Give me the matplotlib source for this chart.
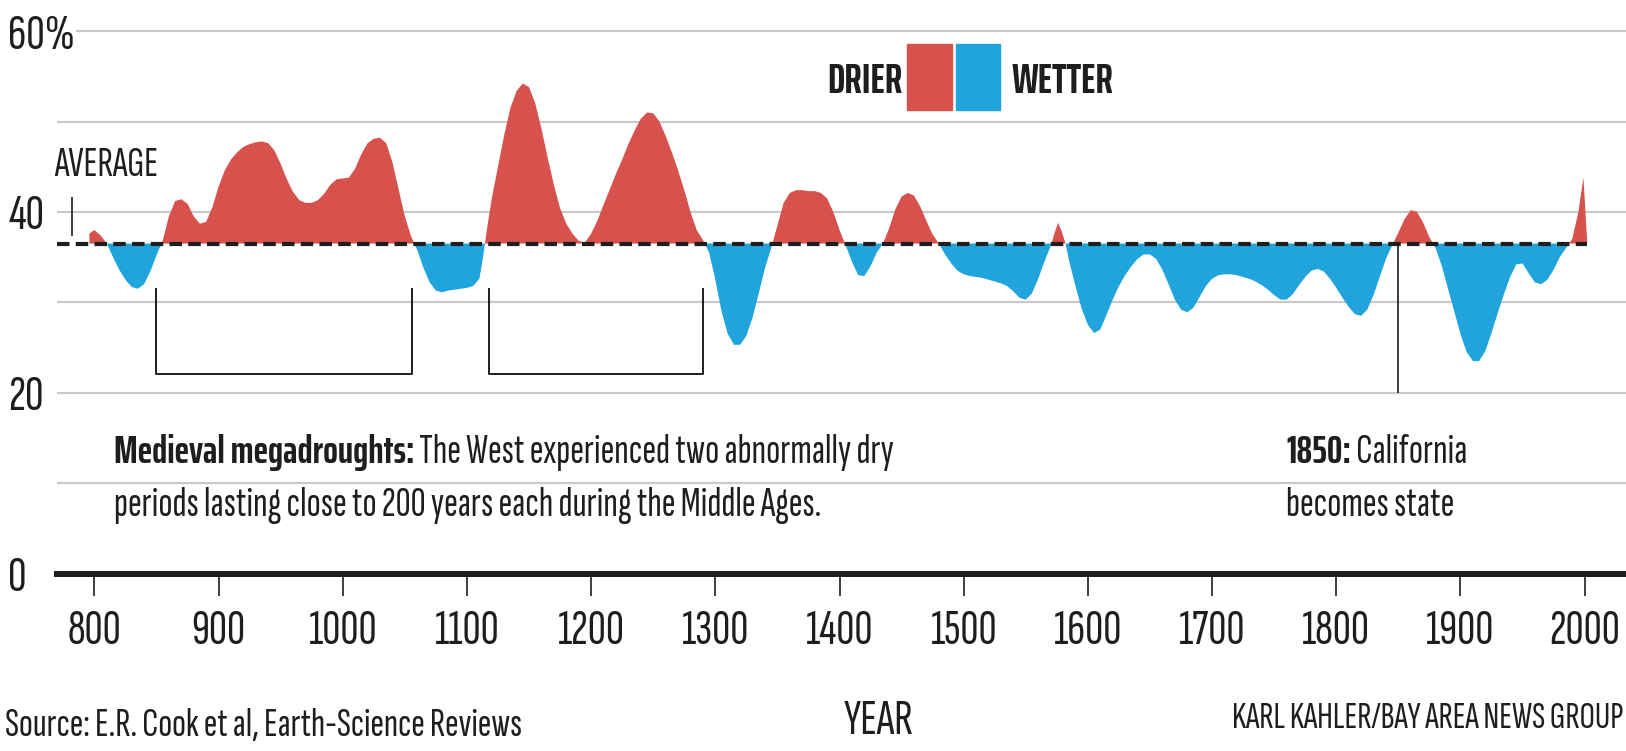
import numpy as np
import matplotlib
matplotlib.use("Agg")
import matplotlib.pyplot as plt
from matplotlib.patches import Rectangle

# share of the West in drought
years = [796, 800, 805, 810, 815, 820, 825, 830, 835, 840, 845, 850, 855, 860, 865, 870,
         875, 880, 885, 890, 895, 900, 905, 910, 915, 920, 925, 930, 935, 940, 945, 950,
         955, 960, 965, 970, 975, 980, 985, 990, 995, 1000, 1005, 1010, 1015, 1020, 1025,
         1030, 1035, 1040, 1045, 1050, 1055, 1060, 1065, 1070, 1075, 1080, 1085, 1090,
         1095, 1100, 1105, 1110, 1113, 1116, 1120, 1125, 1130, 1135, 1140, 1145, 1150,
         1155, 1160, 1165, 1170, 1175, 1180, 1185, 1190, 1195, 1200, 1205, 1210, 1215,
         1220, 1225, 1230, 1235, 1240, 1245, 1250, 1255, 1260, 1265, 1270, 1275, 1280,
         1285, 1290, 1295, 1300, 1305, 1310, 1315, 1320, 1325, 1330, 1335, 1340, 1345,
         1350, 1355, 1360, 1365, 1370, 1375, 1380, 1385, 1390, 1395, 1400, 1405, 1410,
         1415, 1420, 1425, 1430, 1435, 1440, 1445, 1450, 1455, 1460, 1465, 1470, 1475,
         1480, 1485, 1490, 1495, 1500, 1505, 1510, 1515, 1520, 1525, 1530, 1535, 1540,
         1545, 1550, 1555, 1560, 1565, 1570, 1573, 1576, 1579, 1582, 1585, 1590, 1595,
         1600, 1605, 1610, 1615, 1620, 1625, 1630, 1635, 1640, 1645, 1650, 1655, 1660,
         1665, 1670, 1675, 1680, 1685, 1690, 1695, 1700, 1705, 1710, 1715, 1720, 1725,
         1730, 1735, 1740, 1745, 1750, 1755, 1760, 1765, 1770, 1775, 1780, 1785, 1790,
         1795, 1800, 1805, 1810, 1815, 1820, 1825, 1830, 1835, 1840, 1845, 1850, 1855,
         1860, 1865, 1870, 1875, 1880, 1885, 1890, 1895, 1900, 1905, 1910, 1915, 1920,
         1925, 1930, 1935, 1940, 1945, 1950, 1955, 1960, 1965, 1970, 1975, 1980, 1985,
         1990, 1995, 1999, 2002]
drought_area = [37.6, 38.0, 37.4, 36.5, 35.0, 33.6, 32.5, 31.7, 31.5, 32.0, 33.4, 35.2, 36.8,
                39.5, 41.2, 41.4, 40.9, 39.5, 38.7, 38.9, 40.5, 42.8, 44.6, 45.8, 46.6, 47.2,
                47.5, 47.7, 47.8, 47.6, 46.8, 45.3, 43.6, 42.2, 41.3, 41.0, 41.0, 41.3, 42.0,
                43.0, 43.6, 43.7, 43.8, 44.8, 46.4, 47.6, 48.1, 48.2, 47.6, 45.5, 42.5, 39.5,
                37.3, 35.8, 33.8, 32.2, 31.3, 31.1, 31.3, 31.4, 31.5, 31.6, 31.8, 32.6, 35.0,
                38.0, 41.5, 45.0, 48.5, 51.5, 53.4, 54.2, 53.8, 52.0, 49.2, 46.0, 43.0, 40.4,
                38.7, 37.6, 36.8, 36.6, 37.6, 39.0, 40.8, 42.5, 44.2, 45.8, 47.5, 49.0, 50.3,
                51.0, 50.9, 50.0, 48.4, 46.6, 44.6, 42.4, 40.0, 38.0, 36.9, 35.5, 32.5, 29.0,
                26.5, 25.3, 25.3, 26.3, 28.3, 31.0, 33.8, 36.0, 38.5, 41.0, 42.1, 42.4, 42.4,
                42.3, 42.3, 42.1, 41.5, 40.0, 38.0, 36.3, 34.5, 33.0, 32.9, 34.0, 35.5, 36.5,
                38.2, 40.3, 41.7, 42.1, 41.8, 40.6, 39.0, 37.5, 36.5, 35.3, 34.3, 33.5, 33.1,
                32.9, 32.8, 32.7, 32.5, 32.3, 32.1, 31.8, 31.2, 30.5, 30.3, 31.0, 32.6, 34.5,
                36.2, 37.6, 38.8, 37.8, 36.5, 34.5, 31.8, 29.3, 27.5, 26.6, 27.0, 28.6, 30.3,
                31.8, 33.0, 34.0, 34.8, 35.3, 35.3, 34.8, 33.6, 32.0, 30.3, 29.2, 28.9, 29.4,
                30.6, 31.8, 32.6, 33.0, 33.1, 33.1, 33.0, 32.8, 32.6, 32.3, 31.9, 31.4, 30.8,
                30.3, 30.3, 30.9, 31.9, 32.8, 33.5, 33.7, 33.4, 32.6, 31.6, 30.5, 29.5, 28.7,
                28.5, 29.2, 30.8, 32.8, 34.8, 36.3, 37.7, 39.2, 40.2, 40.0, 38.8, 37.2, 36.0,
                34.0, 31.5, 29.0, 26.5, 24.5, 23.5, 23.5, 24.6, 26.6, 28.8, 30.9, 32.8, 34.2,
                34.3, 33.2, 32.2, 32.0, 32.5, 33.6, 35.0, 36.0, 37.0, 40.0, 43.8, 36.8]
average = 36.5
y_ticks = [0, 10, 20, 30, 40, 50, 60]
y_tick_labels = ["0", "", "20", "", "40", "", "60%"]
x_ticks = list(range(800, 2001, 100))
megadroughts = [(850, 1056), (1118, 1290)]
statehood = 1850

RED = "#d8524d"
BLUE = "#21a3db"
INK = "#1e1e1e"

REGULAR = ["Sofia Sans Extra Condensed", "Fira Sans Extra Condensed", "Barlow Condensed",
           "DejaVu Sans"]
BOLD = ["Saira ExtraCondensed", "Fira Sans Extra Condensed", "Barlow Condensed",
        "DejaVu Sans"]
plt.rcParams["font.family"] = REGULAR
plt.rcParams["text.color"] = INK


def fx(px):
    return px / 1626


def fy(px):
    return 1 - px / 751


fig = plt.figure(figsize=(16.26, 7.51), dpi=100)
ax = fig.add_axes([fx(57), 0, 1 - fx(57), 1])
ax.set_xlim(769.9, 2033.3)
ax.set_ylim(-19.63, 63.44)

# gridlines (the top one starts right of its label)
grid_levels = [v for v in y_ticks if v > 0]
ax.hlines(grid_levels, [785 if v == 60 else 770 for v in grid_levels], 2033.3,
          colors="#c9c9c9", lw=1.6, zorder=1)

yrs = np.array(years)
vals = np.array(drought_area)
ax.fill_between(yrs, vals, average, where=vals >= average, interpolate=True,
                color=RED, lw=0, zorder=2)
ax.fill_between(yrs, vals, average, where=vals <= average, interpolate=True,
                color=BLUE, lw=0, zorder=2)
ax.hlines(average, 770, 2002, colors=INK, lw=3, linestyles=(0, (3, 1.5)), zorder=3)

# brackets for the two megadroughts, line for statehood, average marker
for a, b in megadroughts:
    ax.plot([a, a, b, b], [31.5, 22.1, 22.1, 31.5], color=INK, lw=1.4, zorder=3)
ax.vlines(statehood, 20, average, colors=INK, lw=1.2, zorder=3)
ax.vlines(782, 37.3, 41.6, colors=INK, lw=1.2, zorder=3)

ax.set_yticks(y_ticks)
ax.set_yticklabels(y_tick_labels)
ax.tick_params(axis="y", length=0, pad=35, labelsize=37, labelcolor=INK)
for lab in ax.get_yticklabels():
    lab.set_horizontalalignment("left")

ax.set_xticks(x_ticks)
ax.tick_params(axis="x", direction="out", length=16, width=1.2, pad=9.5, labelsize=36,
               color=INK, labelcolor=INK)
for s in ["top", "right", "left"]:
    ax.spines[s].set_visible(False)
ax.spines["bottom"].set_position(("data", 0))
ax.spines["bottom"].set_linewidth(4.3)
ax.spines["bottom"].set_color(INK)
ax.spines["bottom"].set_zorder(4)

fig.text(fx(54), fy(166), "AVERAGE", fontsize=30, va="center", ha="left")

# legend
fig.text(fx(902), fy(81), "DRIER", fontsize=30, fontweight="bold", family=BOLD,
         ha="right", va="center")
fig.patches.append(Rectangle((fx(907), fy(110)), 45 / 1626, 66 / 751,
                             color=RED, transform=fig.transFigure))
fig.patches.append(Rectangle((fx(956), fy(110)), 44 / 1626, 66 / 751,
                             color=BLUE, transform=fig.transFigure))
fig.text(fx(1011), fy(81), "WETTER", fontsize=30, fontweight="bold", family=BOLD,
         ha="left", va="center")

# notes: bold lead-in followed by regular text on the same baseline
t1 = fig.text(fx(114), fy(463), "Medieval megadroughts:", fontsize=28, fontweight="bold",
              family=BOLD, va="baseline")
ax.annotate(" The West experienced two abnormally dry", xy=(1, fy(463)),
            xycoords=(t1, "figure fraction"), fontsize=30, va="baseline", ha="left")
fig.text(fx(114), fy(516),
         "periods lasting close to 200 years each during the Middle Ages.",
         fontsize=30, va="baseline")
t2 = fig.text(fx(1286), fy(463), "1850:", fontsize=28, fontweight="bold", family=BOLD,
              va="baseline")
ax.annotate(" California", xy=(1, fy(463)), xycoords=(t2, "figure fraction"),
            fontsize=30, va="baseline", ha="left")
fig.text(fx(1286), fy(516), "becomes state", fontsize=30, va="baseline")

fig.text(fx(5), fy(726), "Source: E.R. Cook et al, Earth-Science Reviews",
         fontsize=29.5, va="center")
fig.text(fx(879), fy(721), "YEAR", fontsize=36, va="center", ha="center")
fig.text(fx(1623), fy(719), "KARL KAHLER/BAY AREA NEWS GROUP",
         fontsize=27.5, va="center", ha="right")

fig.savefig("out.png", dpi=100)
